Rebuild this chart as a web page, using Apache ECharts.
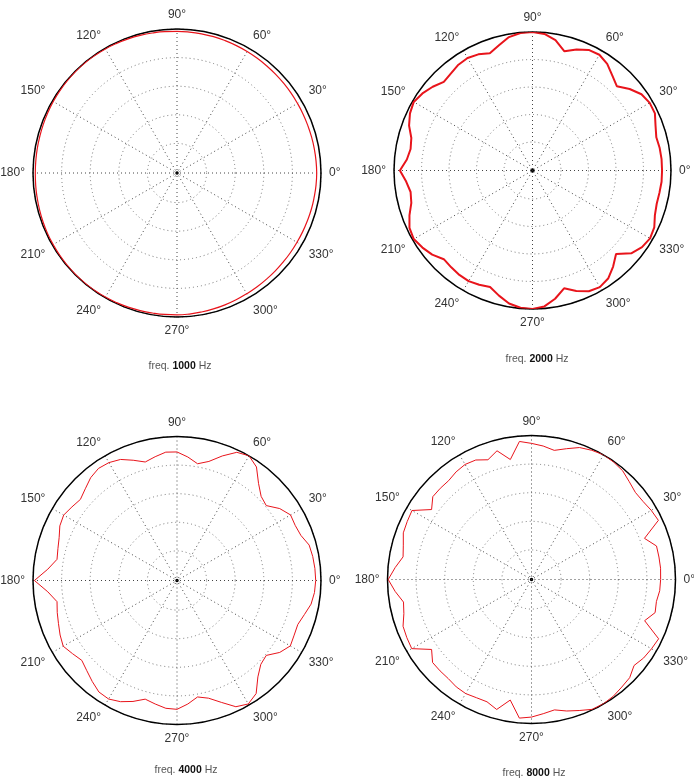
<!DOCTYPE html>
<html>
<head>
<meta charset="utf-8">
<script src="https://cdn.jsdelivr.net/npm/echarts@6/dist/echarts.min.js"></script>
<style>
html,body{margin:0;padding:0;background:#fff;}
#c{width:694px;height:783px;}
</style>
</head>
<body>
<div id="c"></div>
<script>
// Angles (degrees) at which the directivity was sampled
const angles = [0,5,10,15,20,25,30,35,40,45,50,55,60,65,70,75,80,85,90,95,100,105,110,115,120,125,130,135,140,145,150,155,160,165,170,175,180,185,190,195,200,205,210,215,220,225,230,235,240,245,250,255,260,265,270,275,280,285,290,295,300,305,310,315,320,325,330,335,340,345,350,355,360];

// Normalised magnitude per frequency
const mag1000 = [0.970,0.969,0.968,0.967,0.966,0.966,0.966,0.967,0.968,0.969,0.970,0.972,0.974,0.976,0.978,0.980,0.981,0.982,0.983,0.985,0.987,0.989,0.991,0.993,0.995,0.996,0.997,0.997,0.996,0.994,0.992,0.990,0.988,0.986,0.985,0.984,0.984,0.985,0.986,0.988,0.990,0.992,0.993,0.995,0.996,0.997,0.997,0.996,0.995,0.993,0.991,0.989,0.987,0.986,0.985,0.983,0.980,0.977,0.974,0.971,0.968,0.966,0.964,0.963,0.962,0.962,0.962,0.963,0.964,0.966,0.967,0.969,0.970];
const mag2000 = [0.935,0.935,0.932,0.925,0.945,0.975,0.977,0.960,0.915,0.860,0.895,0.940,0.965,0.960,0.930,0.890,0.955,0.990,1.000,0.997,0.978,0.935,0.900,0.925,0.937,0.932,0.915,0.905,0.940,0.970,0.990,0.976,0.948,0.905,0.893,0.910,0.957,0.915,0.893,0.905,0.945,0.980,0.990,0.970,0.945,0.905,0.912,0.920,0.922,0.910,0.895,0.935,0.975,0.995,1.000,0.985,0.940,0.880,0.925,0.962,0.972,0.952,0.905,0.852,0.930,0.965,0.980,0.970,0.940,0.928,0.930,0.935,0.935];
const mag4000 = [0.963,0.961,0.957,0.950,0.915,0.905,0.910,0.870,0.808,0.825,0.880,0.962,1.000,0.982,0.920,0.855,0.822,0.860,0.892,0.894,0.872,0.851,0.888,0.927,0.945,0.950,0.932,0.900,0.875,0.890,0.908,0.897,0.870,0.855,0.845,0.900,0.990,0.900,0.845,0.860,0.875,0.895,0.912,0.885,0.862,0.885,0.915,0.945,0.950,0.928,0.893,0.852,0.870,0.890,0.894,0.860,0.820,0.845,0.900,0.967,0.990,0.958,0.873,0.822,0.808,0.870,0.908,0.897,0.892,0.915,0.945,0.958,0.963];
const mag8000 = [0.896,0.899,0.898,0.898,0.834,0.972,0.960,0.945,0.941,0.960,0.985,0.995,1.000,0.990,0.975,0.940,0.910,0.930,0.945,0.962,0.845,0.925,0.884,0.915,0.922,0.912,0.895,0.895,0.894,0.846,0.958,0.952,0.947,0.921,0.905,0.950,0.995,0.950,0.902,0.917,0.949,0.955,0.960,0.846,0.896,0.897,0.898,0.910,0.914,0.905,0.903,0.934,0.849,0.966,0.955,0.935,0.919,0.945,0.968,0.995,0.997,0.990,0.975,0.964,0.929,0.950,0.962,0.974,0.835,0.888,0.880,0.893,0.896];

const freqs = ['1000','2000','4000','8000'];
const mags = [mag1000, mag2000, mag4000, mag8000];
const tickAngles = [0,30,60,90,120,150,180,210,240,270,300,330];

const panels = [
  {center:[177,173], radius:144, lw:1.2, title:[175,356]},
  {center:[532.5,170.5], radius:138.5, lw:2, title:[532,349]},
  {center:[177,580.5], radius:144, lw:1, title:[181,760]},
  {center:[531.5,579.5], radius:144, lw:1, title:[529,763]}
];

const polar = [], angleAxis = [], radiusAxis = [], series = [], title = [];
const FF = 'Liberation Sans, Arial, sans-serif';
panels.forEach((p, i) => {
  polar.push({center: p.center, radius: [1, p.radius]});
  angleAxis.push({
    polarIndex: i, type: 'value', min: 0, max: 360, interval: 30,
    startAngle: 0, clockwise: false,
    axisLine: {show: true, lineStyle: {color: '#000', width: 1.5}},
    axisTick: {show: false},
    axisLabel: {
      margin: 8, color: '#333', fontSize: 12, fontFamily: FF,
      formatter: v => (v === 360 ? '' : (tickAngles.indexOf(v) >= 0 ? v + '°' : ''))
    },
    splitLine: {show: true, lineStyle: {color: '#444', width: 1, type: [1, 3]}}
  });
  radiusAxis.push({
    polarIndex: i, type: 'value', min: 0, max: 1, interval: 0.2,
    axisLine: {show: false}, axisTick: {show: false}, axisLabel: {show: false},
    splitLine: {show: true, lineStyle: {color: '#777', width: 1, type: [1, 3]}}
  });
  series.push({
    type: 'line', coordinateSystem: 'polar', polarIndex: i,
    showSymbol: false, symbol: 'none', smooth: i === 0, animation: false,
    lineStyle: {color: '#e8141b', width: p.lw},
    data: angles.map((a, k) => [mags[i][k], a])
  });
  title.push({
    text: '{a|freq. }{b|' + freqs[i] + '}{a| Hz}',
    left: p.title[0], top: p.title[1], textAlign: 'center',
    textStyle: {
      fontWeight: 'normal', fontSize: 10.5, fontFamily: FF, color: '#555',
      rich: {
        a: {color: '#555', fontSize: 10.5, fontWeight: 'normal', fontFamily: FF},
        b: {color: '#111', fontSize: 10.5, fontWeight: 'bold', fontFamily: FF}
      }
    }
  });
});

const chart = echarts.init(document.getElementById('c'), null, {renderer: 'canvas'});
chart.setOption({
  backgroundColor: '#fff',
  animation: false,
  title, polar, angleAxis, radiusAxis, series
});
</script>
</body>
</html>
